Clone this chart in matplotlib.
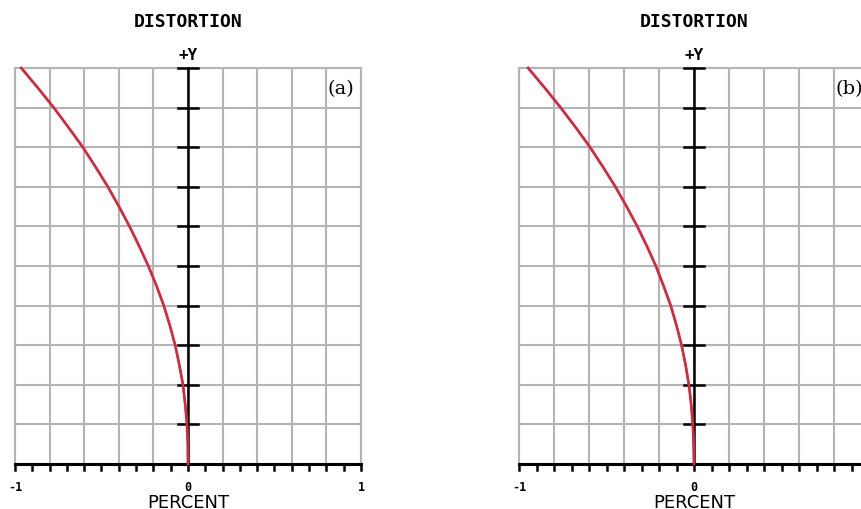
import numpy as np
import matplotlib.pyplot as plt

# relative field height and distortion (percent)
field = [0.0, 0.05, 0.1, 0.15, 0.2, 0.25, 0.3, 0.35, 0.4, 0.45, 0.5,
         0.55, 0.6, 0.65, 0.7, 0.75, 0.8, 0.85, 0.9, 0.95, 1.0]
dist_a = [0.0, -0.001, -0.006, -0.016, -0.029, -0.05, -0.074, -0.105, -0.14, -0.182, -0.229,
          -0.282, -0.338, -0.399, -0.463, -0.534, -0.608, -0.691, -0.776, -0.868, -0.964]
dist_b = [0.0, -0.002, -0.007, -0.016, -0.029, -0.048, -0.071, -0.10, -0.133, -0.174, -0.218,
          -0.269, -0.324, -0.385, -0.449, -0.52, -0.594, -0.676, -0.762, -0.853, -0.948]
panels = [("(a)", dist_a, True), ("(b)", dist_b, False)]

fig = plt.figure(figsize=(8.62, 5.1), dpi=100)
positions = [[15 / 862, 45 / 510, 346 / 862, 396 / 510],
             [519 / 862, 45 / 510, 350 / 862, 396 / 510]]

mono = {"family": "DejaVu Sans Mono", "weight": "bold"}
gridc = "#b4b4b4"

for pos, (tag, dist, show_one) in zip(positions, panels):
    ax = fig.add_axes(pos)
    ax.set_xlim(-1, 1)
    ax.set_ylim(0, 1)
    ax.set_xticks(np.linspace(-1, 1, 11))
    ax.set_yticks(np.linspace(0, 1, 11))
    ax.grid(True, color=gridc, lw=1.5)
    ax.tick_params(length=0, labelbottom=False, labelleft=False)
    for s in ax.spines.values():
        s.set_visible(False)
    ax.set_axisbelow(True)

    for xv in (-1, 1):
        ax.axvline(xv, color=gridc, lw=1.5, clip_on=False)
    ax.axhline(1, color=gridc, lw=1.5, clip_on=False)

    # x axis with ticks every 0.1
    ax.plot([-1, 1], [0, 0], color="black", lw=2.2, clip_on=False, zorder=4)
    for xv in np.linspace(-1, 1, 21):
        ax.plot([xv, xv], [0, -0.014], color="black", lw=1.8, clip_on=False, zorder=4)

    # y axis with cross ticks
    ax.plot([0, 0], [0, 1], color="black", lw=1.8, clip_on=False, zorder=3)
    for yv in np.linspace(0.1, 1, 10):
        ax.plot([-0.055, 0.055], [yv, yv], color="black", lw=1.8, clip_on=False, zorder=3)

    ax.plot(dist, field, color="#5060c0", lw=1.9, zorder=5, clip_on=False)
    ax.plot(dist, field, color="#ff1a1a", lw=1.5, zorder=6, clip_on=False)

    ax.text(-1, -0.04, "-1", ha="center", va="top", fontsize=8.5, fontdict=mono)
    ax.text(0, -0.04, "0", ha="center", va="top", fontsize=8.5, fontdict=mono)
    if show_one:
        ax.text(1, -0.04, "1", ha="center", va="top", fontsize=8.5, fontdict=mono)
    ax.text(0, -0.072, "PERCENT", ha="center", va="top", fontsize=13)
    ax.text(0, 1.023, "+Y", ha="center", va="baseline", fontsize=11.5, fontdict=mono)
    ax.text(0, 1.106, "DISTORTION", ha="center", va="baseline", fontsize=13, fontdict=mono)
    ax.text(0.808, 0.949, tag, ha="left", va="center", fontsize=14, family="DejaVu Serif")

fig.savefig("out.png", dpi=100)
